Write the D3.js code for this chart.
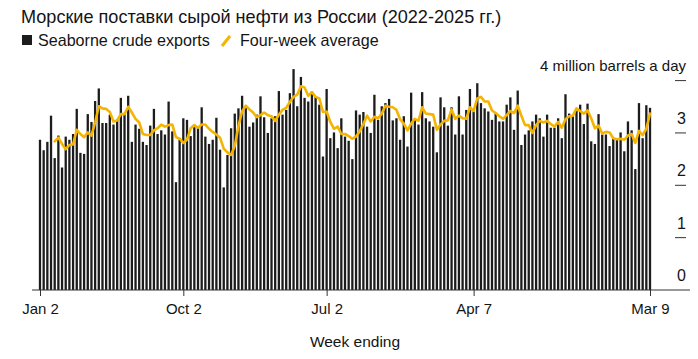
<!DOCTYPE html>
<html>
<head>
<meta charset="utf-8">
<script src="https://cdn.jsdelivr.net/npm/d3@7"></script>
<style>
  html, body { margin: 0; padding: 0; background: #fff; }
  svg { display: block; font-family: "Liberation Sans", Arial, Helvetica, sans-serif; }
</style>
</head>
<body>
<svg id="chart" width="698" height="359"></svg>
<script>
// ---------- DATA ----------
const titleText = "Морские поставки сырой нефти из России (2022-2025 гг.)";
const seriesNames = ["Seaborne crude exports", "Four-week average"];
const unitLabel = "4 million barrels a day";
const xAxisTitle = "Week ending";
const firstWeek = "2022-01-02";
const lastWeek = "2025-03-09";

// Weekly seaborne crude exports, million barrels a day (one value per week, Jan 2 2022 .. Mar 9 2025)
const exportsValues = [
  2.87, 2.67, 2.83, 3.33, 2.52, 2.95, 2.34, 2.93, 2.87, 2.98,
  3.46, 2.62, 2.60, 3.36, 3.21, 3.61, 3.85, 3.19, 3.19, 3.35,
  3.16, 3.25, 3.67, 3.36, 3.71, 2.83, 3.16, 3.08, 2.83, 2.77,
  3.14, 3.46, 2.98, 3.05, 2.97, 3.60, 3.03, 2.06, 2.87, 3.28,
  3.25, 2.94, 3.11, 3.10, 3.49, 2.93, 2.79, 2.87, 3.29, 2.68,
  1.96, 2.58, 3.09, 3.37, 3.47, 3.71, 3.51, 3.12, 3.20, 3.35,
  3.70, 3.30, 3.00, 3.28, 3.32, 3.80, 3.35, 3.44, 3.76, 4.22,
  3.51, 4.07, 3.67, 3.60, 3.79, 3.70, 3.54, 2.55, 3.84, 2.90,
  3.01, 2.71, 3.28, 2.93, 2.85, 2.50, 3.43, 3.35, 3.40, 3.12,
  3.00, 3.73, 3.25, 3.51, 3.57, 3.65, 3.24, 3.28, 2.87, 3.32,
  2.74, 3.77, 3.25, 3.16, 3.78, 3.28, 3.22, 3.12, 2.63, 3.68,
  3.49, 3.14, 3.49, 2.97, 3.70, 2.97, 3.44, 3.84, 3.41, 3.95,
  3.57, 3.47, 3.41, 3.25, 3.38, 3.22, 3.22, 3.54, 3.68, 3.06,
  3.81, 2.77, 2.97, 3.05, 3.22, 3.35, 3.28, 2.93, 3.35, 3.10,
  3.10, 3.28, 2.90, 3.74, 3.37, 3.32, 3.43, 3.54, 3.17, 3.56,
  2.84, 2.79, 3.36, 2.97, 2.97, 2.75, 2.90, 2.90, 3.01, 2.65,
  3.22, 3.05, 2.31, 3.57, 2.90, 3.53, 3.48
];

// Four-week average line (null where not shown)
const averageValues = [
  null, null, null, null, 2.84, 2.91, 2.79, 2.69, 2.77, 2.78,
  3.06, 2.98, 2.92, 3.01, 2.95, 3.20, 3.51, 3.47, 3.46, 3.40,
  3.22, 3.24, 3.36, 3.36, 3.50, 3.39, 3.27, 3.20, 2.98, 2.96,
  2.96, 3.05, 3.09, 3.16, 3.12, 3.15, 3.16, 2.92, 2.89, 2.81,
  2.87, 3.09, 3.15, 3.10, 3.16, 3.16, 3.08, 3.02, 2.97, 2.91,
  2.70, 2.63, 2.58, 2.75, 3.13, 3.41, 3.52, 3.45, 3.39, 3.30,
  3.34, 3.39, 3.34, 3.32, 3.23, 3.35, 3.44, 3.48, 3.59, 3.69,
  3.73, 3.89, 3.87, 3.71, 3.78, 3.69, 3.66, 3.40, 3.41, 3.21,
  3.08, 3.12, 2.98, 2.98, 2.94, 2.89, 2.93, 3.03, 3.17, 3.33,
  3.22, 3.31, 3.28, 3.37, 3.52, 3.50, 3.49, 3.44, 3.26, 3.18,
  3.05, 3.18, 3.27, 3.23, 3.49, 3.37, 3.36, 3.35, 3.06, 3.16,
  3.23, 3.24, 3.45, 3.27, 3.33, 3.28, 3.27, 3.49, 3.42, 3.66,
  3.69, 3.60, 3.60, 3.43, 3.38, 3.32, 3.27, 3.34, 3.42, 3.38,
  3.52, 3.33, 3.15, 3.15, 3.00, 3.15, 3.23, 3.20, 3.23, 3.17,
  3.12, 3.21, 3.10, 3.26, 3.32, 3.33, 3.47, 3.42, 3.37, 3.43,
  3.28, 3.09, 3.14, 2.99, 3.02, 3.01, 2.90, 2.88, 2.89, 2.87,
  2.95, 2.98, 2.81, 3.04, 2.96, 3.08, 3.37
];

const xTickDates = ["2022-01-02", "2022-10-02", "2023-07-02", "2024-04-07", "2025-03-09"];
const xTickLabels = ["Jan 2", "Oct 2", "Jul 2", "Apr 7", "Mar 9"];
const yTickValues = [0, 1, 2, 3, 4];
const yTickLabels = ["0", "1", "2", "3", ""];

// ---------- STYLE ----------
const barColor = "#1c1c1c";
const lineColor = "#f4b400";
const textColor = "#141414";

// ---------- BUILD ----------
const parse = d3.utcParse("%Y-%m-%d");
const weeks = d3.utcWeek.range(parse(firstWeek), d3.utcDay.offset(parse(lastWeek), 1));
const data = weeks.map((d, i) => ({ date: d, value: exportsValues[i], avg: averageValues[i] }));

const svg = d3.select("#chart");

const x = d3.scaleUtc()
  .domain([parse(firstWeek), parse(lastWeek)])
  .range([40, 650]);

const y = d3.scaleLinear()
  .domain([0, 4])
  .range([290, 80.6]);

const barW = 2.3;

// Title
svg.append("text")
  .attr("x", 21).attr("y", 23)
  .attr("fill", textColor)
  .style("font-size", "18.1px")
  .text(titleText);

// Legend
svg.append("rect")
  .attr("x", 22).attr("y", 35).attr("width", 10).attr("height", 10)
  .attr("fill", barColor);
svg.append("text")
  .attr("x", 38).attr("y", 46)
  .attr("fill", textColor)
  .style("font-size", "16.1px")
  .text(seriesNames[0]);
svg.append("line")
  .attr("x1", 222).attr("y1", 46).attr("x2", 230).attr("y2", 36)
  .attr("stroke", lineColor).attr("stroke-width", 3).attr("stroke-linecap", "butt");
svg.append("text")
  .attr("x", 240).attr("y", 46)
  .attr("fill", textColor)
  .style("font-size", "16.1px")
  .text(seriesNames[1]);

// Bars
svg.append("g")
  .selectAll("rect")
  .data(data)
  .join("rect")
  .attr("x", d => x(d.date) - barW / 2)
  .attr("y", d => y(d.value))
  .attr("width", barW)
  .attr("height", d => y(0) - y(d.value))
  .attr("fill", barColor);

// Four-week average line
const line = d3.line()
  .defined(d => d.avg != null)
  .x(d => x(d.date))
  .y(d => y(d.avg))
  .curve(d3.curveLinear);

svg.append("path")
  .datum(data)
  .attr("d", line)
  .attr("fill", "none")
  .attr("stroke", lineColor)
  .attr("stroke-width", 2.6)
  .attr("stroke-linejoin", "round")
  .attr("stroke-linecap", "round");

// Baseline
svg.append("line")
  .attr("x1", 32).attr("x2", 690)
  .attr("y1", y(0)).attr("y2", y(0))
  .attr("stroke", "#333").attr("stroke-width", 1);

// X axis
const xAxis = d3.axisBottom(x)
  .tickValues(xTickDates.map(parse))
  .tickFormat((d, i) => xTickLabels[i])
  .tickSize(6)
  .tickPadding(7);

const gx = svg.append("g")
  .attr("transform", `translate(0,${y(0)})`)
  .call(xAxis);
gx.select(".domain").remove();
gx.selectAll(".tick line").attr("stroke", "#333");
gx.selectAll(".tick text")
  .attr("fill", textColor)
  .style("font-size", "15px")
  .style("font-family", "'Liberation Sans', Arial, sans-serif");

svg.append("text")
  .attr("x", 355).attr("y", 347)
  .attr("text-anchor", "middle")
  .attr("fill", textColor)
  .style("font-size", "15.5px")
  .text(xAxisTitle);

// Y axis (right side, labels above ticks)
const gy = svg.append("g");
gy.selectAll("line")
  .data(yTickValues.filter(v => v > 0))
  .join("line")
  .attr("x1", 675).attr("x2", 686)
  .attr("y1", d => y(d)).attr("y2", d => y(d))
  .attr("stroke", "#333").attr("stroke-width", 1);
gy.selectAll("text")
  .data(yTickValues)
  .join("text")
  .attr("x", 686)
  .attr("y", d => y(d) - 9)
  .attr("text-anchor", "end")
  .attr("fill", textColor)
  .style("font-size", "16px")
  .text((d, i) => yTickLabels[i]);

svg.append("text")
  .attr("x", 686).attr("y", y(4) - 10)
  .attr("text-anchor", "end")
  .attr("fill", textColor)
  .style("font-size", "15px")
  .text(unitLabel);
</script>
</body>
</html>
